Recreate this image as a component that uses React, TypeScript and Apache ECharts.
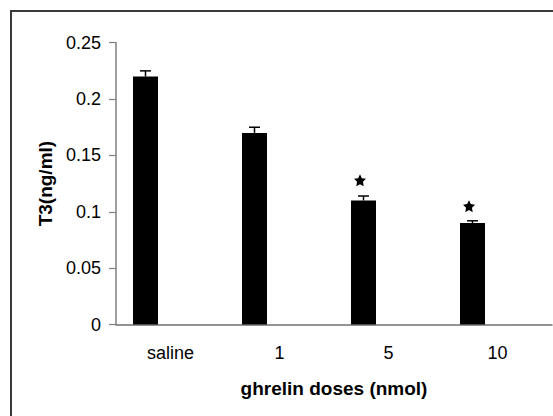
import React, { useEffect, useRef } from "react";
import * as echarts from "echarts";

const categories = ["saline", "1", "5", "10"];
const means = [0.22, 0.17, 0.11, 0.09];
const errors = [0.005, 0.005, 0.004, 0.002];
const stars: (number | null)[] = [null, null, 0.128, 0.105];
const yMin = 0;
const yMax = 0.25;
const yStep = 0.05;

const FONT = "'Liberation Sans', Arial, sans-serif";
const BAR_W = 25;
const BAR_OFFSET = -25;
const STAR_PATH =
  "path://M0,-10 L2.9,-4 L9.51,-3.09 L4.7,1.5 L5.88,8.09 L0,5 L-5.88,8.09 L-4.7,1.5 L-9.51,-3.09 L-2.9,-4 Z";

export default function App() {
  const ref = useRef<HTMLDivElement>(null);
  useEffect(() => {
    if (!ref.current) return;
    const chart = echarts.init(ref.current, undefined, { renderer: "svg" });
    chart.setOption({
      animation: false,
      backgroundColor: "#ffffff",
      graphic: [
        {
          type: "rect",
          silent: true,
          z: -10,
          shape: { x: 11, y: 11, width: 620, height: 500 },
          style: { fill: "none", stroke: "#3a3a3a", lineWidth: 2 },
        },
      ],
      grid: { left: 116, right: 1, top: 42.7, bottom: 91.5 },
      xAxis: {
        type: "category",
        data: categories,
        axisLine: { lineStyle: { color: "#707070", width: 1.5 } },
        axisTick: { show: false },
        axisLabel: { color: "#000", fontSize: 18, fontFamily: FONT, margin: 19 },
        name: "ghrelin doses (nmol)",
        nameLocation: "middle",
        nameGap: 54,
        nameTextStyle: { color: "#000", fontSize: 19, fontWeight: "bold", fontFamily: FONT },
      },
      yAxis: {
        type: "value",
        min: yMin,
        max: yMax,
        interval: yStep,
        splitLine: { show: false },
        axisLine: { show: true, lineStyle: { color: "#808080", width: 1.5 } },
        axisTick: { show: true, length: 7, lineStyle: { color: "#808080", width: 1.2 } },
        axisLabel: { color: "#000", fontSize: 18, fontFamily: FONT, margin: 15 },
        name: "T3(ng/ml)",
        nameLocation: "middle",
        nameGap: 61,
        nameTextStyle: { color: "#000", fontSize: 19, fontWeight: "bold", fontFamily: FONT },
      },
      series: [
        {
          type: "bar",
          data: means,
          barWidth: BAR_W,
          barGap: "0%",
          itemStyle: { color: "#000" },
        },
        { type: "bar", data: categories.map(() => "-"), barWidth: BAR_W, barGap: "0%" },
        { type: "bar", data: categories.map(() => "-"), barWidth: BAR_W, barGap: "0%" },
        {
          type: "custom",
          z: 5,
          data: means.map((m, i) => [i, m, errors[i]]),
          encode: { x: 0, y: 1 },
          renderItem: (_params: any, api: any) => {
            const i = api.value(0);
            const m = api.value(1);
            const e = api.value(2);
            const base = api.coord([i, m]);
            const top = api.coord([i, m + e]);
            const x = base[0] + BAR_OFFSET;
            return {
              type: "group",
              children: [
                {
                  type: "line",
                  shape: { x1: x, y1: base[1], x2: x, y2: top[1] },
                  style: { stroke: "#000", lineWidth: 1.5 },
                },
                {
                  type: "line",
                  shape: { x1: x - 5.5, y1: top[1], x2: x + 5.5, y2: top[1] },
                  style: { stroke: "#000", lineWidth: 1.5 },
                },
              ],
            };
          },
        },
        {
          type: "scatter",
          z: 6,
          symbol: STAR_PATH,
          symbolSize: 12,
          symbolOffset: [-28.5, 0],
          itemStyle: { color: "#000", opacity: 1 },
          data: stars
            .map((v, i) => (v == null ? null : [i, v]))
            .filter((d) => d !== null),
        },
      ],
    });
    return () => chart.dispose();
  }, []);
  return (
    <div
      ref={ref}
      style={{ position: "fixed", left: 0, top: 0, width: 553, height: 416, background: "#fff" }}
    />
  );
}
